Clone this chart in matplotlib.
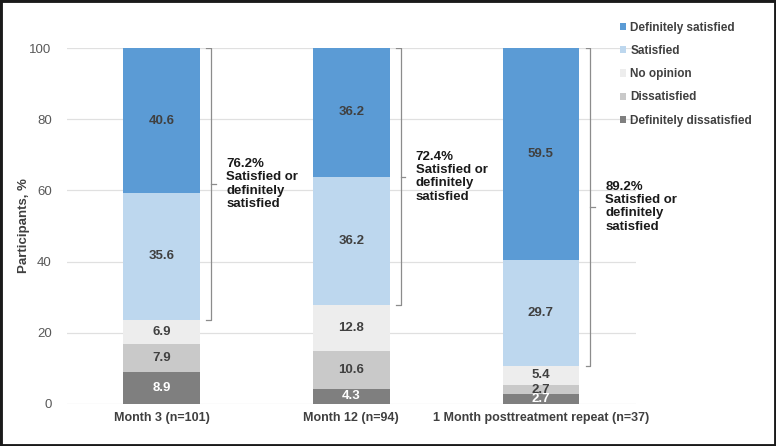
import matplotlib.pyplot as plt
import numpy as np
from matplotlib.patches import Rectangle

plt.rcParams["font.family"] = ["Liberation Sans", "DejaVu Sans"]

groups = ["Month 3 (n=101)", "Month 12 (n=94)", "1 Month posttreatment repeat (n=37)"]
# bottom to top
levels = ["Definitely dissatisfied", "Dissatisfied", "No opinion", "Satisfied", "Definitely satisfied"]
def_dissatisfied = [8.9, 4.3, 2.7]
dissatisfied = [7.9, 10.6, 2.7]
no_opinion = [6.9, 12.8, 5.4]
satisfied = [35.6, 36.2, 29.7]
def_satisfied = [40.6, 36.2, 59.5]
summary = ["76.2%", "72.4%", "89.2%"]

colors = ["#7f7f7f", "#c9c9c9", "#ededed", "#bdd7ee", "#5b9bd5"]
text_colors = ["white", "#404040", "#404040", "#404040", "#404040"]

fig = plt.figure(figsize=(7.76, 4.46), dpi=100)
ax = fig.add_axes([0.0863, 0.0942, 0.733, 0.798])

x = np.arange(len(groups))
series = [def_dissatisfied, dissatisfied, no_opinion, satisfied, def_satisfied]
bottom = np.zeros(len(groups))
handles = []
for vals, col, tc, lab in zip(series, colors, text_colors, levels):
    vals = np.array(vals)
    b = ax.bar(x, vals, 0.405, bottom=bottom, color=col, label=lab, zorder=3)
    handles.append(b)
    for xi, v, bt in zip(x, vals, bottom):
        ax.text(xi, bt + v / 2, f"{v:.1f}", ha="center", va="center",
                fontsize=9.5, fontweight="bold", color=tc, zorder=4)
    bottom += vals

# brackets for satisfied + definitely satisfied
lows = np.array(def_dissatisfied) + np.array(dissatisfied) + np.array(no_opinion)
for xi, lo, txt in zip(x, lows, summary):
    bx = xi + 0.26
    mid = (100 + lo) / 2
    ax.plot([bx - 0.025, bx, bx, bx - 0.025], [100, 100, lo, lo], color="#8c8c8c", lw=0.9, zorder=3)
    ax.plot([bx, bx + 0.025], [mid, mid], color="#8c8c8c", lw=0.9, zorder=3)
    ax.text(xi + 0.34, mid, txt + "\nSatisfied or\ndefinitely\nsatisfied", ha="left", va="center",
            fontsize=9.5, fontweight="bold", color="#1a1a1a", linespacing=1.15, zorder=4)

ax.set_xlim(-0.5, 2.5)
ax.set_ylim(0, 100)
ax.set_yticks(range(0, 101, 20))
ax.set_xticks(x)
ax.set_xticklabels(groups, fontsize=9, fontweight="bold", color="#404040")
ax.tick_params(axis="y", labelsize=9.5, labelcolor="#595959", length=0, pad=11)
ax.tick_params(axis="x", length=0, pad=6)
ax.grid(axis="y", color="#e0e0e0", lw=0.9, zorder=0)
for s in ax.spines.values():
    s.set_visible(False)
ax.set_ylabel("Participants, %", fontsize=9.5, fontweight="bold", color="#404040")
ax.yaxis.set_label_coords(-0.065, 0.5)

leg = fig.legend(handles[::-1], levels[::-1], loc="upper left", bbox_to_anchor=(0.785, 0.975),
                 frameon=False, fontsize=8.5, handlelength=0.55, handleheight=0.55,
                 handletextpad=0.35, labelspacing=0.95)
for t in leg.get_texts():
    t.set_color("#404040")
    t.set_fontweight("bold")

fig.patches.append(Rectangle((0, 0), 1, 1, transform=fig.transFigure, fill=False,
                             edgecolor="#1a1a1a", lw=3.5, zorder=10))

fig.savefig("out.png", dpi=100)
